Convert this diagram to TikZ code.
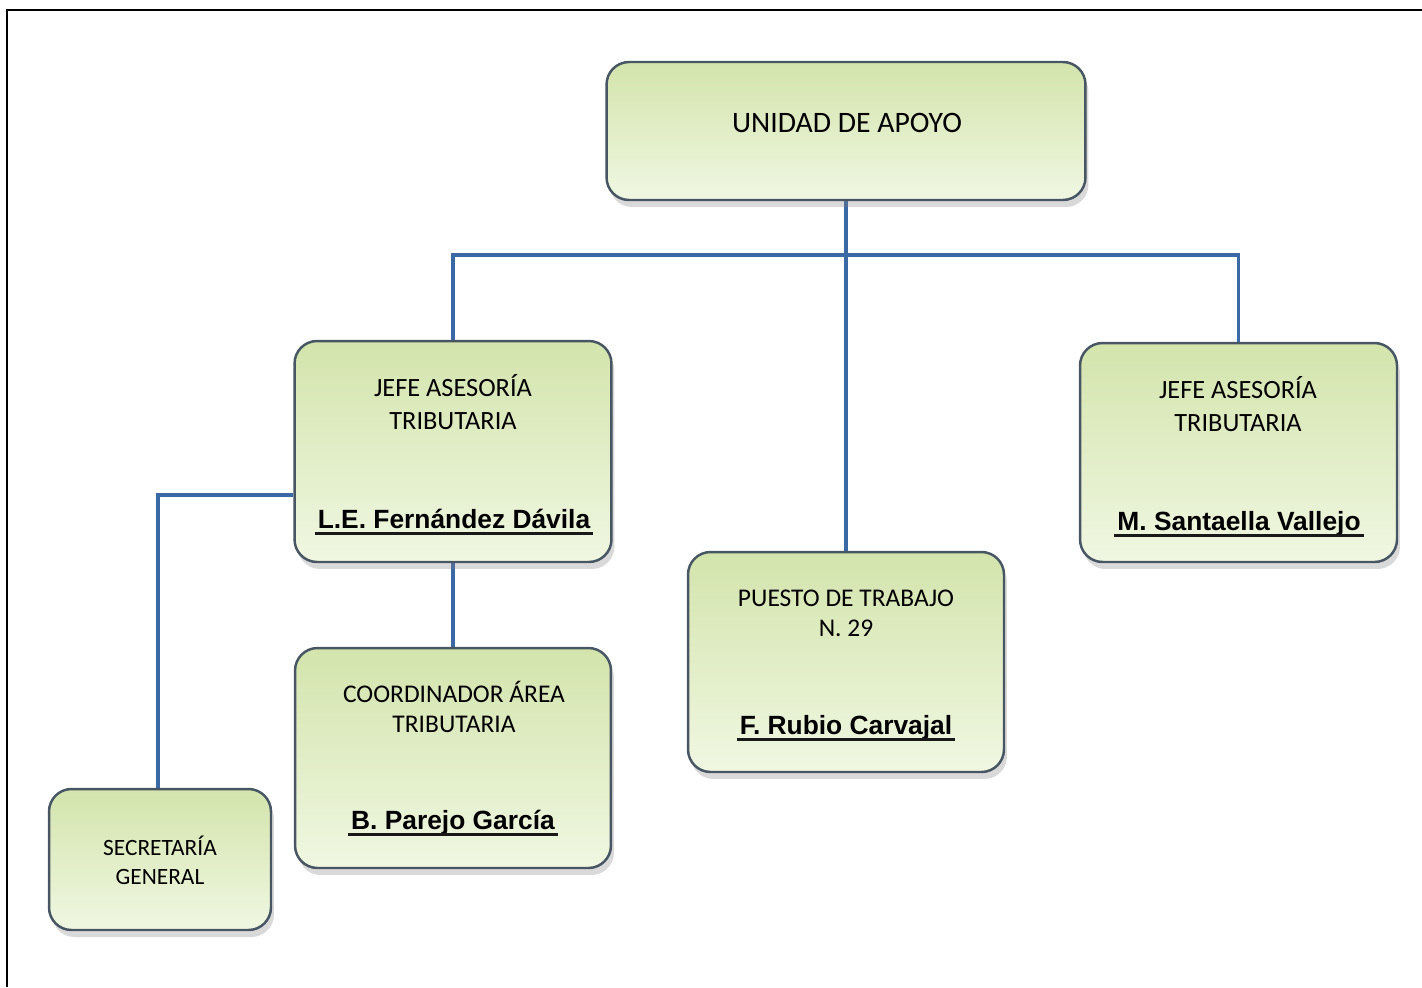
\documentclass[tikz,border=0pt]{standalone}
\usepackage{fontspec}
\setmainfont{Carlito}
\newfontfamily\namefont{Liberation Sans}
\usetikzlibrary{shadows,backgrounds}

\definecolor{boxtop}{RGB}{211,228,172}
\definecolor{boxbot}{RGB}{240,247,226}
\definecolor{boxedge}{RGB}{72,86,100}
\definecolor{linkblue}{RGB}{59,105,166}

\tikzset{
  orgbox/.style={rectangle, rounded corners=0.45cm, draw=boxedge, line width=1.4pt,
    top color=boxtop, bottom color=boxbot,
    drop shadow={shadow xshift=0.6mm, shadow yshift=-1.4mm, opacity=0.3}},
  orgtitle/.style={align=center, inner sep=1pt, font=\fontsize{15}{18.7}\selectfont},
  orgname/.style={anchor=base, inner xsep=1.5pt, font=\namefont\bfseries\fontsize{15}{17}\selectfont},
  nameline/.style={line width=2pt, black!90},
  orglink/.style={draw=linkblue, line width=2pt}
}

\begin{document}
\begin{tikzpicture}[x=0.02cm, y=-0.02cm]
  \useasboundingbox (0,0) rectangle (1422,987);
  \draw[line width=1.6pt] (7,987) -- (7,10) -- (1422,10);

  % cajas
  \node[orgbox, minimum width=9.58cm, minimum height=2.76cm] (apoyo) at (846,131) {};
  \node[orgbox, minimum width=6.34cm, minimum height=4.42cm] (jefeA) at (453,451.5) {};
  \node[orgbox, minimum width=6.34cm, minimum height=4.38cm] (jefeB) at (1238.5,452.5) {};
  \node[orgbox, minimum width=6.32cm, minimum height=4.4cm] (puesto) at (846,662) {};
  \node[orgbox, minimum width=6.32cm, minimum height=4.4cm] (coord) at (453,758) {};
  \node[orgbox, minimum width=4.44cm, minimum height=2.82cm] (secre) at (160,859.5) {};

  % conexiones
  \coordinate (bus) at (846,255);
  \begin{pgfonlayer}{background}
    \draw[orglink] (apoyo.south) -- (puesto.north);
    \draw[orglink] (jefeA.north) -- (jefeA.north |- bus) -- (jefeB.north |- bus) -- (jefeB.north);
    \draw[orglink] (jefeA.south) -- (coord.north);
    \draw[orglink] ([yshift=-0.87cm]jefeA.west) -| ([xshift=-0.04cm]secre.north);
  \end{pgfonlayer}

  % textos
  \node[orgtitle, font=\fontsize{16.9}{20}\selectfont] (apoyoT) at (847,123) {UNIDAD DE APOYO};
  \node[orgtitle] (jefeAT) at (453,402) {JEFE ASESORÍA\\TRIBUTARIA};
  \node[orgtitle] (jefeBT) at (1238,404) {JEFE ASESORÍA\\TRIBUTARIA};
  \node[orgtitle, font=\fontsize{14.5}{17}\selectfont] (puestoT) at (846,613) {PUESTO DE TRABAJO\\N. 29};
  \node[orgtitle, font=\fontsize{14.5}{17}\selectfont] (coordT) at (454,707) {COORDINADOR ÁREA\\TRIBUTARIA};
  \node[orgtitle, font=\fontsize{13.3}{16.6}\selectfont] (secreT) at (160,860) {SECRETARÍA\\GENERAL};

  \node[orgname] (jefeAN) at (454,528) {L.E. Fernández Dávila};
  \node[orgname] (jefeBN) at (1239,530) {M. Santaella Vallejo};
  \node[orgname] (puestoN) at (846,734) {F. Rubio Carvajal};
  \node[orgname] (coordN) at (453,829) {B. Parejo García};
  \foreach \n in {jefeAN,jefeBN,puestoN,coordN}
    \draw[nameline] ([yshift=-3pt]\n.base west) -- ([yshift=-3pt]\n.base east);
\end{tikzpicture}
\end{document}
